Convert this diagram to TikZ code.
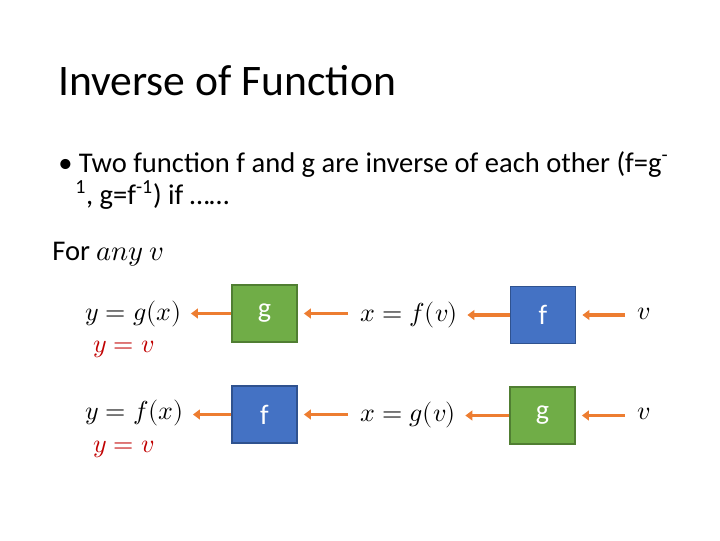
\documentclass[tikz,border=0pt]{standalone}
\usepackage{fontspec}
\usepackage{unicode-math}
\setmainfont{Carlito}
\setmathfont{Latin Modern Math}
\usetikzlibrary{arrows.meta}
\definecolor{gbox}{HTML}{70AD47}
\definecolor{gedge}{HTML}{507E32}
\definecolor{fbox}{HTML}{4472C4}
\definecolor{fedge}{HTML}{2F528F}
\definecolor{arrorange}{HTML}{ED7D31}
\definecolor{redv}{HTML}{C00000}
\tikzset{x=0.025cm, y=-0.025cm,
    funbox/.style={minimum width=1.625cm, minimum height=1.425cm, inner sep=0pt,
        line width=1.2pt, text=white, font=\fontsize{20}{24}\selectfont},
    gfun/.style={funbox, draw=gedge, fill=gbox},
    ffun/.style={funbox, draw=fedge, fill=fbox},
    eqn/.style={anchor=base west, inner sep=0pt, font=\fontsize{18.5}{23}\selectfont},
    plain/.style={anchor=base west, inner sep=0pt, font=\fontsize{20.3}{24}\selectfont},
    arr/.style={draw=arrorange, line width=2.2pt, -{Triangle[length=5pt,width=7pt]}},
    }
\begin{document}
\begin{tikzpicture}
	\useasboundingbox (0,0) rectangle (720,540);
	\node[anchor=base west, inner sep=0pt, font=\fontsize{31}{37}\selectfont] (title) at (58,95) {Inverse of Function};
	\node[plain] (bullet) at (58,172) {\textbullet\ Two function f and g are inverse of each other (f=g\textsuperscript{-}};
	\node[plain] (bullet2) at (75,204) {\textsuperscript{1}, g=f\textsuperscript{-1}) if \dots\dots};
	\node[plain] (forany) at (52,260) {For $any\ v$};
	% first row
	\node[eqn] (y1) at (85,320) {$y=g(x)$};
	\node[eqn, text=redv] (r1) at (93,352) {$y=v$};
	\node[gfun] (g1) at (264.5,313.5) {g};
	\node[eqn] (x1) at (360,321) {$x=f(v)$};
	\node[ffun] (f1) at (543,315) {f};
	\node[eqn] (v1) at (637,319) {$v$};
	% second row
	\node[eqn] (y2) at (85,419) {$y=f(x)$};
	\node[eqn, text=redv] (r2) at (93,452) {$y=v$};
	\node[ffun] (f2) at (264.5,414.5) {f};
	\node[eqn] (x2) at (360,421) {$x=g(v)$};
	\node[gfun] (g2) at (542.5,415.5) {g};
	\node[eqn] (v2) at (637,419) {$v$};
	\foreach \a/\b/\c in {v1/f1/x1, x1/g1/y1, v2/g2/x2, x2/f2/y2}{
		\draw[arr, shorten <=8.5pt, shorten >=4.3pt] (\a.west |- \b.east) -- (\b.east);
		\draw[arr, shorten >=6.4pt] (\b.west) -- (\c.east |- \b.west);
	}
\end{tikzpicture}
\end{document}
